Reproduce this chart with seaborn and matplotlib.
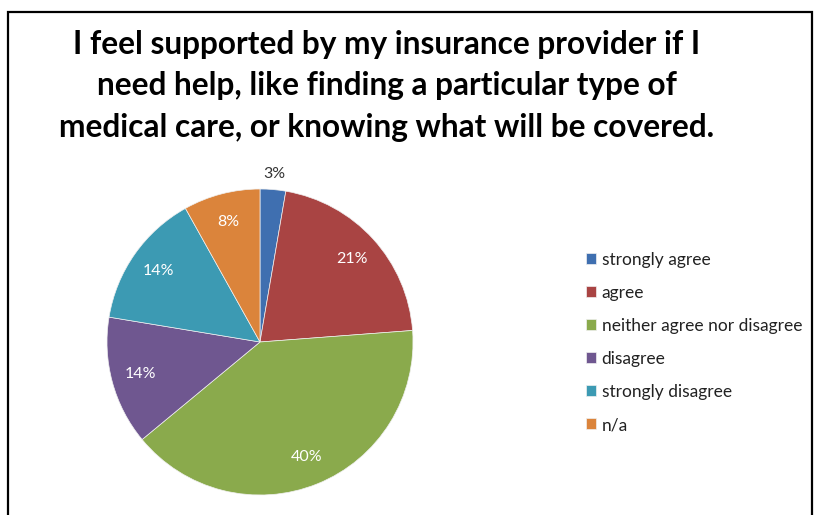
import matplotlib
matplotlib.use("Agg")
import matplotlib.pyplot as plt
import seaborn as sns
import numpy as np
from matplotlib.patches import Rectangle

categories = ["strongly agree", "agree", "neither agree nor disagree",
              "disagree", "strongly disagree", "n/a"]
values = [2.7, 21.1, 40.2, 13.6, 14.3, 8.1]
labels = ["3%", "21%", "40%", "14%", "14%", "8%"]
colors = ["#3F6FB0", "#A94443", "#8AAA4C", "#6F5790", "#3C9AB3", "#DB843B"]
title = ("I feel supported by my insurance provider if I\n"
         "need help, like finding a particular type of\n"
         "medical care, or knowing what will be covered.")

sns.set_theme(style="white")
plt.rcParams['font.family'] = ['Lato', 'DejaVu Sans']

W, H = 815, 515
fig = plt.figure(figsize=(W / 100, H / 100), dpi=100)
fig.patch.set_facecolor("white")

# border
fig.add_artist(Rectangle((8 / W, -0.05), (812 - 8) / W, 1.05 - 12 / H,
                         transform=fig.transFigure, fill=False,
                         edgecolor="black", linewidth=1.6))

fig.text(387 / W, 1 - 86 / H, title, ha="center", va="center",
         fontsize=22.8, fontweight="bold", color="black", linespacing=1.52)

cx, cy, r = 260, 342, 153
ax = fig.add_axes([(cx - r) / W, (H - cy - r) / H, 2 * r / W, 2 * r / H])
wedges, _ = ax.pie(values, colors=colors, startangle=90, counterclock=False,
                   wedgeprops=dict(edgecolor="#f0f0f0", linewidth=0.5))
ax.set_xlim(-1, 1)
ax.set_ylim(-1, 1)
ax.set_aspect("equal")
ax.axis("off")

for i, (w, lab) in enumerate(zip(wedges, labels)):
    ang = np.deg2rad((w.theta1 + w.theta2) / 2)
    if i == 0:
        d, col = 1.10, "#333333"
    else:
        d, col = 0.81, "white"
    ax.text(d * np.cos(ang), d * np.sin(ang), lab, ha="center", va="center",
            fontsize=11.5, color=col, clip_on=False)

leg = fig.legend(wedges, categories, loc="upper left",
                 bbox_to_anchor=(579 / W, 1 - 245 / H),
                 frameon=False, fontsize=12.5, handlelength=0.6,
                 handleheight=0.6, handletextpad=0.3, labelspacing=0.98,
                 borderaxespad=0)
for t in leg.get_texts():
    t.set_color("#222222")

fig.savefig("out.png", dpi=100, facecolor="white")
